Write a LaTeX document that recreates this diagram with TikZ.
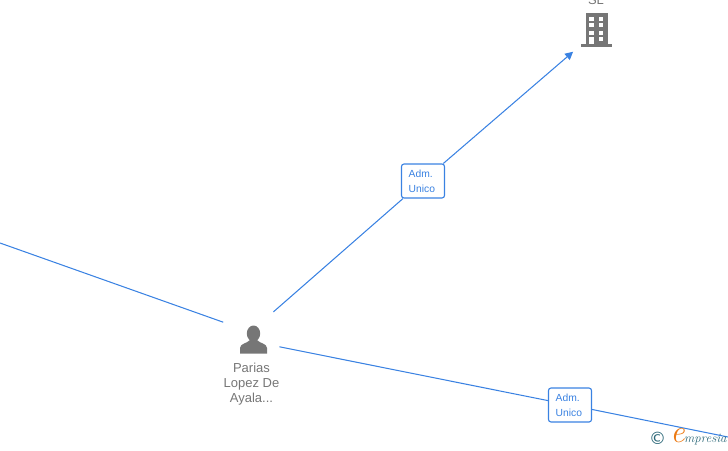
\documentclass[tikz,border=0pt]{standalone}
\usepackage{fontspec}
\setmainfont{Liberation Sans}
\newfontfamily\logofont{DejaVu Sans}
\newfontfamily\logoscript{Latin Modern Roman}
\definecolor{linkcolor}{RGB}{58, 130, 226}
\definecolor{iconcolor}{RGB}{118, 118, 118}
\definecolor{logoteal}{RGB}{44, 104, 120}
\definecolor{logoorange}{RGB}{236, 122, 20}
\usetikzlibrary{arrows.meta}
\tikzset{
  anchorzone/.style={circle, minimum size=60pt, inner sep=0pt},
  rolebox/.style={draw=linkcolor, fill=white, line width=1.1pt, rounded corners=2.5pt, minimum width=43pt, minimum height=34pt, inner sep=0pt, text=linkcolor},
  roletext/.style={text=linkcolor, align=left, inner sep=0pt, anchor=west, font=\fontsize{10.3}{15}\selectfont},
  iconlabel/.style={text=iconcolor, align=center, font=\fontsize{13}{15}\selectfont},
  linkline/.style={draw=linkcolor, line width=1.05pt}
}
\begin{document}
\begin{tikzpicture}[x=1pt,y=-1pt]
  \clip (0,0) rectangle (728,450);

  % Nodos
  \node[anchorzone] (person) at (254,335) {};
  \node[anchorzone] (company) at (596,32) {};
  \node[iconlabel, anchor=base] (companylabel) at (596,4) {SL};
  \node[iconlabel, anchor=north] (personlabel) at (251.5,360) {Parias\\Lopez De\\Ayala...};
  \coordinate (leftend) at (0,243);
  \coordinate (rightend) at (728,437);
  \node[rolebox] (admtop) at (423,181) {};
  \node[rolebox] (admbottom) at (570,405) {};
  \node[roletext] (admtoptext) at (408.5,181) {Adm.\\Unico};
  \node[roletext] (admbottomtext) at (555.5,405) {Adm.\\Unico};

  % Enlaces
  \draw[linkline] (leftend) -- ([shift={(-3,-1)}]person.157);
  \draw[linkline] (person.50) -- (admtop);
  \draw[linkline, -{Triangle[length=8pt,width=8pt]}] (admtop) -- (company);
  \draw[linkline] ([shift={(-2,-1)}]person.-25) -- (admbottom);
  \draw[linkline] (admbottom) -- (rightend);

  % Persona
  \fill[iconcolor] (253.5,333.5) ellipse (6.7 and 8);
  \fill[iconcolor] (240,353.5) -- (240,348) .. controls (240,343.5) and (247,343.5) .. (250,340)
    -- (257,340) .. controls (260,343.5) and (267,343.5) .. (267,348) -- (267,353.5) -- cycle;

  % Edificio
  \fill[iconcolor] (585.7,12.7) rectangle (607.7,44);
  \fill[iconcolor] (580.7,43.5) rectangle (612,46.7);
  \foreach \wx in {589.3,598.7} {
    \foreach \wy in {16.7,23.3,30.5} {
      \fill[white] (\wx,\wy) rectangle (\wx+4.4,\wy+4);
    }
  }
  \fill[white] (598.7,36.7) rectangle (603.1,40.7);
  \fill[white] (589.3,36.7) rectangle (593.7,44);

  % Logo
  \node[text=logoteal, font=\fontsize{17}{17}\selectfont\logofont, inner sep=0pt] (logomark) at (657.5,438.5) {©};
  \node[text=logoorange, font=\fontsize{32}{32}\selectfont\logoscript\itshape, inner sep=0pt] (logoe) at (677.5,435.5) {e};
  \node[text=logoteal, font=\fontsize{12.8}{12.8}\selectfont\logoscript\itshape, anchor=west, inner sep=0pt] (logotext) at (684,439.5) {mpresia};
\end{tikzpicture}
\end{document}
